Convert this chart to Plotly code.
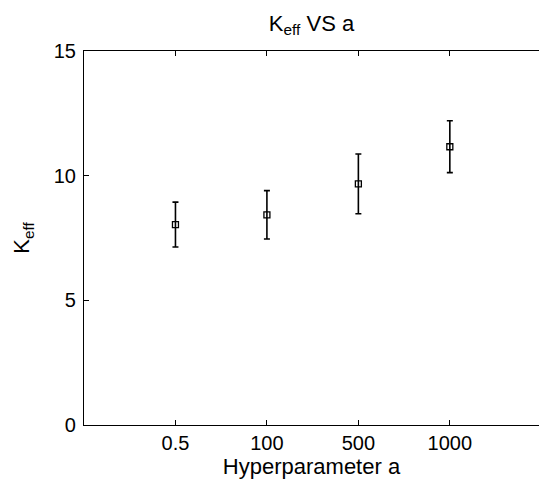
import plotly.graph_objects as go

categories = ["0.5", "100", "500", "1000"]
positions = [1, 2, 3, 4]
k_eff = [8.04, 8.43, 9.67, 11.16]
k_err = [0.9, 0.97, 1.2, 1.04]

fig = go.Figure()
fig.add_trace(go.Scatter(
    x=positions, y=k_eff, mode="markers",
    marker=dict(symbol="square-open", size=6, color="black", line=dict(width=1.3, color="black")),
    error_y=dict(type="data", array=k_err, visible=True, color="black", thickness=1.6, width=3),
    showlegend=False,
))

font = "Liberation Sans, Arial, Helvetica, sans-serif"
fig.update_layout(
    width=539, height=480,
    margin=dict(l=84, r=0, t=51, b=55),
    paper_bgcolor="white", plot_bgcolor="white",
    font=dict(family=font, size=20, color="black"),
    title=dict(text="K<sub>eff</sub> VS a", x=(84 + 539) / 2 / 539, xanchor="center",
               y=1 - 23 / 480, yanchor="middle", font=dict(size=22, color="black")),
    xaxis=dict(
        range=[0, 4.975], tickmode="array", tickvals=positions, ticktext=categories,
        showgrid=False, zeroline=False, showline=True, linecolor="black", linewidth=1.2,
        mirror="ticks", ticks="inside", ticklen=5, tickcolor="black",
        title=dict(text="Hyperparameter a", font=dict(size=22), standoff=1),
        tickfont=dict(size=20),
    ),
    yaxis=dict(
        range=[0, 15], tickvals=[0, 5, 10, 15],
        showgrid=False, zeroline=False, showline=True, linecolor="black", linewidth=1.2,
        ticks="inside", ticklen=5, tickcolor="black", ticklabelstandoff=3,
        title=dict(text="K<sub>eff</sub>", font=dict(size=22), standoff=17),
        tickfont=dict(size=20),
    ),
)

fig.write_html("out.html", config={"displayModeBar": False},
               post_script="document.body.style.margin='0';document.body.style.overflow='hidden';")
